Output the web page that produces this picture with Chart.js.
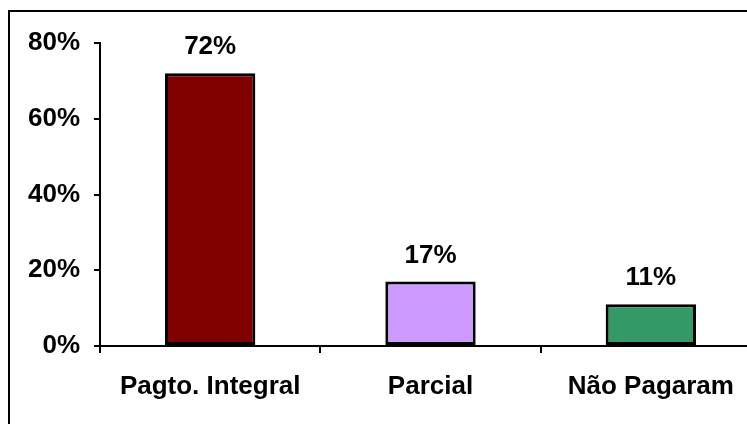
<!DOCTYPE html>
<html>
<head>
<meta charset="utf-8">
<script src="https://cdn.jsdelivr.net/npm/chart.js@4.4.1/dist/chart.umd.min.js"></script>
<style>
  html, body { margin: 0; padding: 0; background: #fff; overflow: hidden; }
  canvas { display: block; }
</style>
</head>
<body>
<canvas id="pagamentos" width="780" height="424"></canvas>
<script>
const categories = ["Pagto. Integral", "Parcial", "Não Pagaram"];
const percentages = [72, 17, 11];
const barColors = ["#800000", "#CC99FF", "#339966"];
const yTicks = [0, 20, 40, 60, 80];

const FONT = { family: "'Liberation Sans', Arial, sans-serif", size: 26, weight: "bold" };

// outer frame around the whole chart
const framePlugin = {
  id: "frame",
  beforeDraw(chart) {
    const ctx = chart.ctx;
    ctx.save();
    ctx.fillStyle = "#fff";
    ctx.fillRect(0, 0, chart.width, chart.height);
    ctx.strokeStyle = "#000";
    ctx.lineWidth = 2;
    ctx.strokeRect(9, 11, chart.width + 20, chart.height + 20);
    ctx.restore();
  }
};

// percentage above each bar
const valueLabels = {
  id: "valueLabels",
  afterDatasetsDraw(chart) {
    const ctx = chart.ctx;
    const meta = chart.getDatasetMeta(0);
    ctx.save();
    ctx.font = `${FONT.weight} ${FONT.size}px ${FONT.family}`;
    ctx.fillStyle = "#000";
    ctx.textAlign = "center";
    ctx.textBaseline = "alphabetic";
    meta.data.forEach((bar, i) => {
      ctx.fillText(percentages[i] + "%", bar.x, bar.y - 19);
    });
    ctx.restore();
  }
};

const ctx = document.getElementById("pagamentos").getContext("2d");

new Chart(ctx, {
  type: "bar",
  data: {
    labels: categories,
    datasets: [{
      data: percentages,
      backgroundColor: barColors,
      borderColor: "#000",
      borderWidth: 3,
      borderSkipped: false,
      categoryPercentage: 0.41,
      barPercentage: 1.0
    }]
  },
  options: {
    responsive: false,
    animation: false,
    layout: { padding: { top: 43, right: 19, bottom: 0, left: 0 } },
    plugins: {
      legend: { display: false },
      tooltip: { enabled: false }
    },
    scales: {
      x: {
        afterFit(scale) { scale.height = 78; },
        grid: {
          display: true,
          drawOnChartArea: false,
          drawTicks: true,
          tickLength: 7,
          color: "#000",
          lineWidth: 2,
          offset: true
        },
        border: { display: true, color: "#000", width: 2 },
        ticks: { color: "#000", font: FONT, padding: 18, maxRotation: 0 }
      },
      y: {
        min: 0,
        max: 80,
        afterFit(scale) { scale.width = 100; },
        afterBuildTicks(scale) { scale.ticks = yTicks.map(v => ({ value: v })); },
        grid: {
          display: true,
          drawOnChartArea: false,
          drawTicks: true,
          tickLength: 6,
          color: "#000",
          lineWidth: 2
        },
        border: { display: true, color: "#000", width: 2 },
        ticks: {
          color: "#000",
          font: FONT,
          padding: 14,
          callback: v => v + "%"
        }
      }
    }
  },
  plugins: [framePlugin, valueLabels]
});
</script>
</body>
</html>
